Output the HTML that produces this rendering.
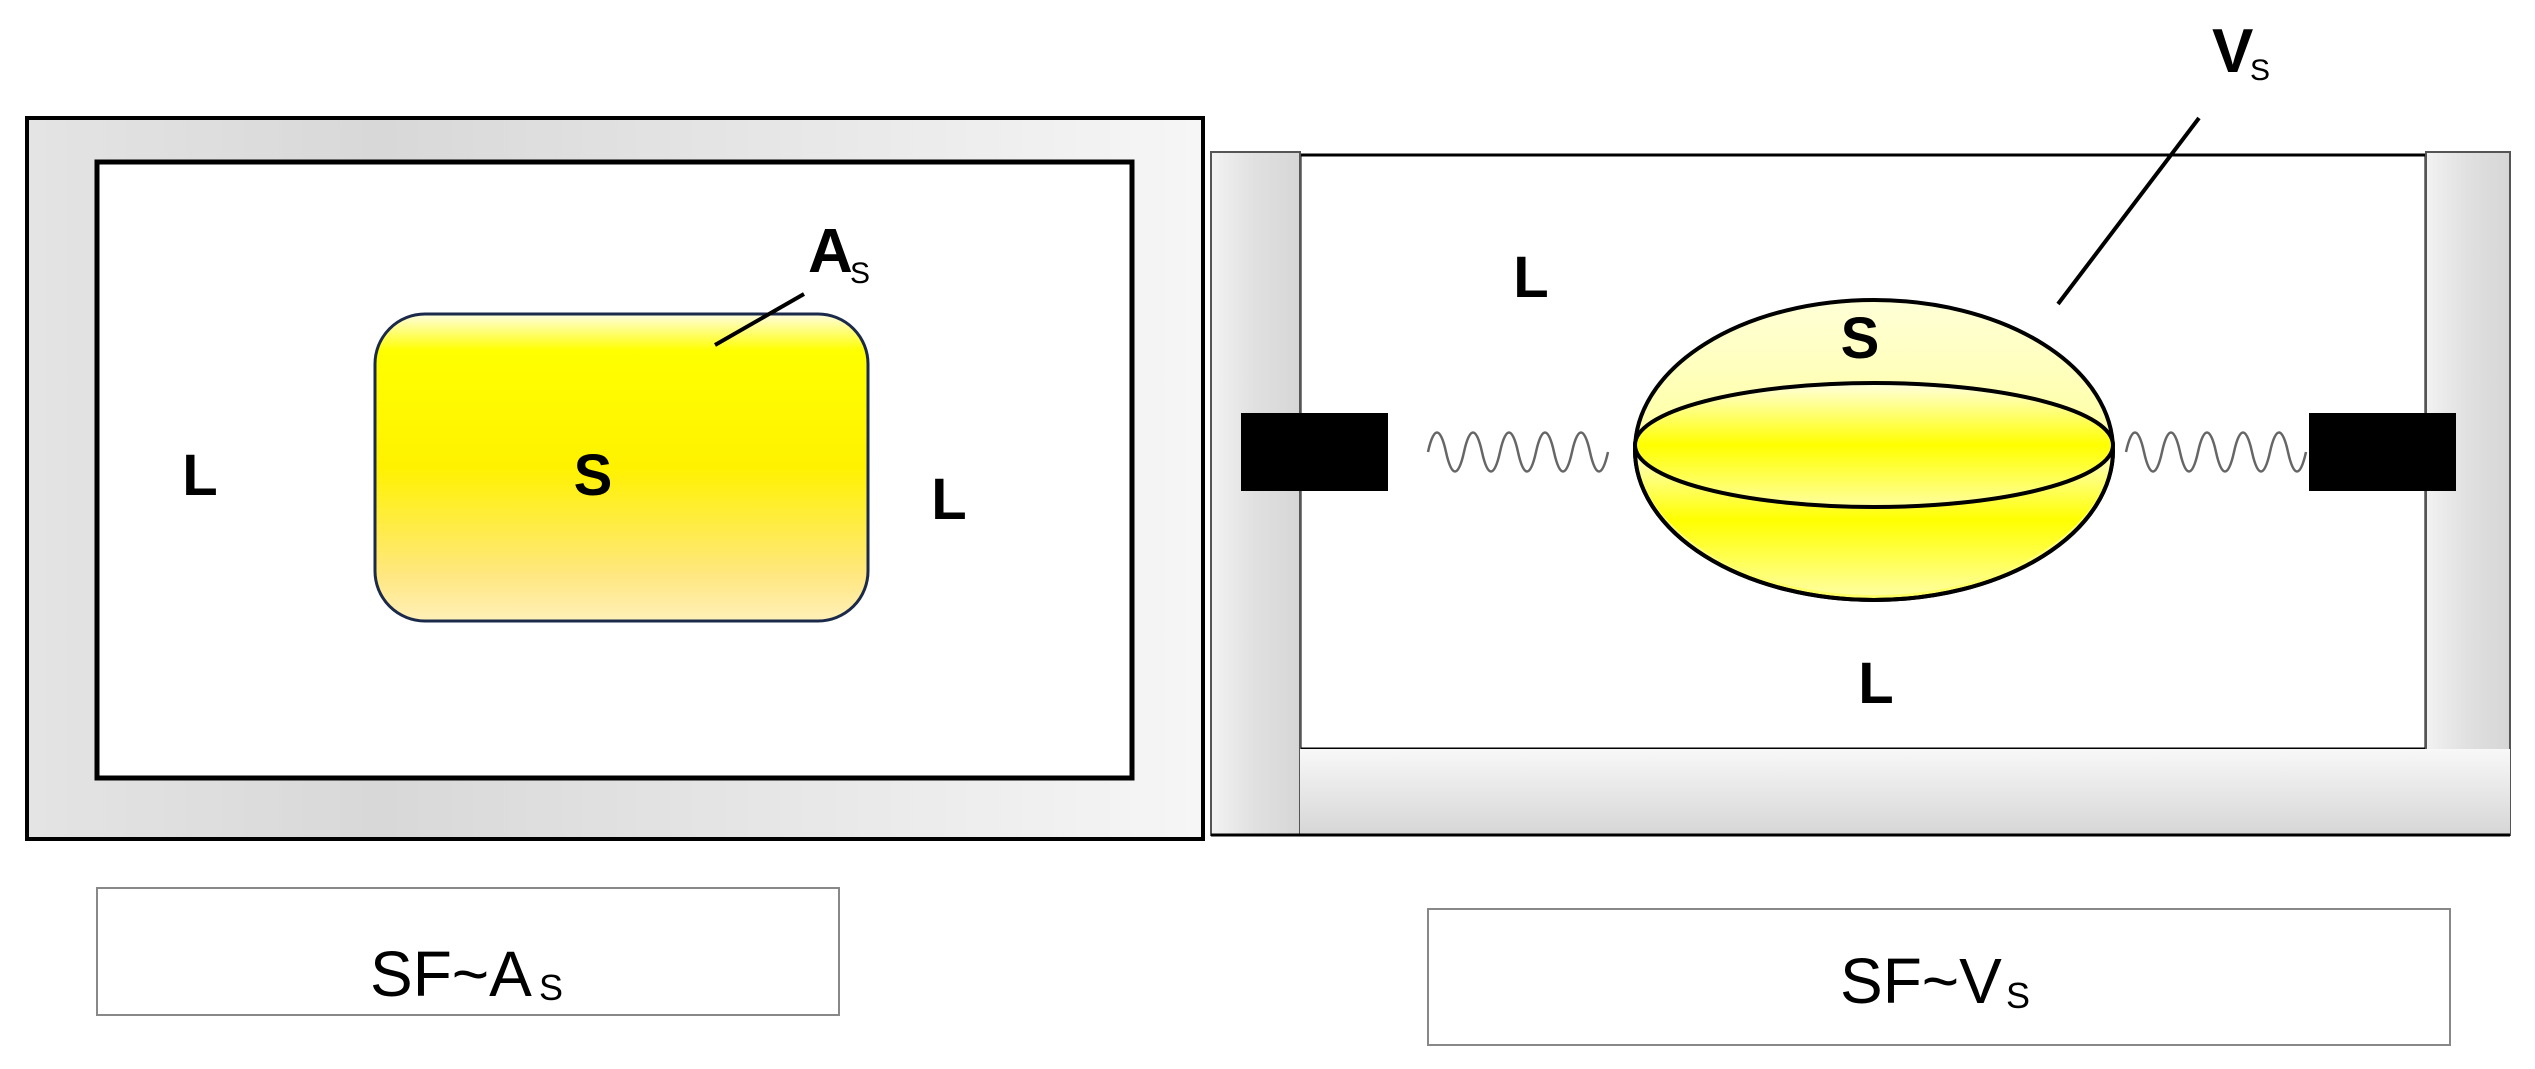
<!DOCTYPE html>
<html><head><meta charset="utf-8"><style>
html,body{margin:0;padding:0;background:#fff;}
svg{display:block;}
text{font-family:"Liberation Sans","DejaVu Sans",sans-serif;}
</style></head><body>
<svg width="2535" height="1069" viewBox="0 0 2535 1069" xmlns="http://www.w3.org/2000/svg">
<defs>
<linearGradient id="gh" x1="0" y1="0" x2="1" y2="0">
<stop offset="0" stop-color="#e4e4e4"/><stop offset="0.3" stop-color="#d8d8d8"/><stop offset="1" stop-color="#f6f6f6"/>
</linearGradient>
<linearGradient id="gy" x1="0" y1="0" x2="0" y2="1">
<stop offset="0" stop-color="#fffde0"/><stop offset="0.12" stop-color="#ffff00"/><stop offset="0.5" stop-color="#fff200"/><stop offset="0.85" stop-color="#ffe780"/><stop offset="1" stop-color="#fff0b8"/>
</linearGradient>
<linearGradient id="gw" x1="0" y1="0" x2="1" y2="0">
<stop offset="0" stop-color="#f2f2f2"/><stop offset="0.5" stop-color="#e0e0e0"/><stop offset="1" stop-color="#d6d6d6"/>
</linearGradient>
<linearGradient id="gb" x1="0" y1="0" x2="0" y2="1">
<stop offset="0" stop-color="#f8f8f8"/><stop offset="1" stop-color="#d6d6d6"/>
</linearGradient>
<linearGradient id="gs1" x1="0" y1="0" x2="0" y2="1">
<stop offset="0" stop-color="#ffffd8"/><stop offset="1" stop-color="#ffff66"/>
</linearGradient>
<linearGradient id="gs2" x1="0" y1="0" x2="0" y2="1">
<stop offset="0" stop-color="#ffffe0"/><stop offset="0.5" stop-color="#ffff00"/><stop offset="1" stop-color="#ffffa0"/>
</linearGradient>
<path id="wave" d="M0 0 c5.7 -26 12.3 -26 18 0 c5.7 26 12.3 26 18 0 c5.7 -26 12.3 -26 18 0 c5.7 26 12.3 26 18 0 c5.7 -26 12.3 -26 18 0 c5.7 26 12.3 26 18 0 c5.7 -26 12.3 -26 18 0 c5.7 26 12.3 26 18 0 c5.7 -26 12.3 -26 18 0 c5.7 26 12.3 26 18 0" fill="none" stroke="#666" stroke-width="2.5"/>
</defs>

<!-- Left panel -->
<rect x="27" y="118" width="1176" height="721" fill="url(#gh)" stroke="#000" stroke-width="4"/>
<rect x="97" y="162" width="1035" height="616" fill="#fff" stroke="#000" stroke-width="5"/>
<rect x="375" y="314" width="493" height="307" rx="50" fill="url(#gy)" stroke="#1b2a4a" stroke-width="3"/>
<line x1="804" y1="294" x2="715" y2="345" stroke="#000" stroke-width="4"/>
<text x="808" y="272" font-size="62" font-weight="bold">A</text>
<text x="850" y="283" font-size="30">S</text>
<text x="200" y="495" font-size="58" font-weight="bold" text-anchor="middle">L</text>
<text x="593" y="495" font-size="58" font-weight="bold" text-anchor="middle">S</text>
<text x="949" y="519" font-size="58" font-weight="bold" text-anchor="middle">L</text>
<rect x="97" y="888" width="742" height="127" fill="#fff" stroke="#888" stroke-width="2"/>
<text x="370" y="996" font-size="64">SF~A</text>
<text x="539" y="1000" font-size="36">S</text>

<!-- Right panel -->
<line x1="1203" y1="145" x2="1203" y2="840" stroke="#000" stroke-width="3"/>
<rect x="1300" y="155" width="1126" height="594" fill="#fff" stroke="#000" stroke-width="3"/>
<rect x="1211" y="152" width="89" height="683" fill="url(#gw)" stroke="#555" stroke-width="2"/>
<rect x="2426" y="152" width="84" height="683" fill="url(#gw)" stroke="#555" stroke-width="2"/>
<rect x="1300" y="749" width="1210" height="86" fill="url(#gb)"/>
<line x1="1211" y1="835" x2="2510" y2="835" stroke="#000" stroke-width="3"/>
<rect x="1241" y="413" width="147" height="78" fill="#000"/>
<rect x="2309" y="413" width="147" height="78" fill="#000"/>
<use href="#wave" x="1428" y="452"/>
<use href="#wave" x="2126" y="452"/>
<ellipse cx="1874" cy="450" rx="239" ry="150" fill="url(#gs1)" stroke="#000" stroke-width="4"/>
<path d="M1635 445 A239 150 0 0 0 2113 445 Z" fill="url(#gs2)"/>
<ellipse cx="1874" cy="445" rx="239" ry="62" fill="url(#gs2)" stroke="#000" stroke-width="4"/>
<path d="M1635 450 A239 150 0 0 0 2113 450" fill="none" stroke="#000" stroke-width="4"/>
<line x1="2199" y1="118" x2="2058" y2="304" stroke="#000" stroke-width="4"/>
<text x="2212" y="72" font-size="62" font-weight="bold">V</text>
<text x="2250" y="80" font-size="30">S</text>
<text x="1531" y="297" font-size="58" font-weight="bold" text-anchor="middle">L</text>
<text x="1860" y="358" font-size="58" font-weight="bold" text-anchor="middle">S</text>
<text x="1876" y="703" font-size="58" font-weight="bold" text-anchor="middle">L</text>
<rect x="1428" y="909" width="1022" height="136" fill="#fff" stroke="#888" stroke-width="2"/>
<text x="1840" y="1003" font-size="64">SF~V</text>
<text x="2006" y="1008" font-size="36">S</text>
</svg>
</body></html>
